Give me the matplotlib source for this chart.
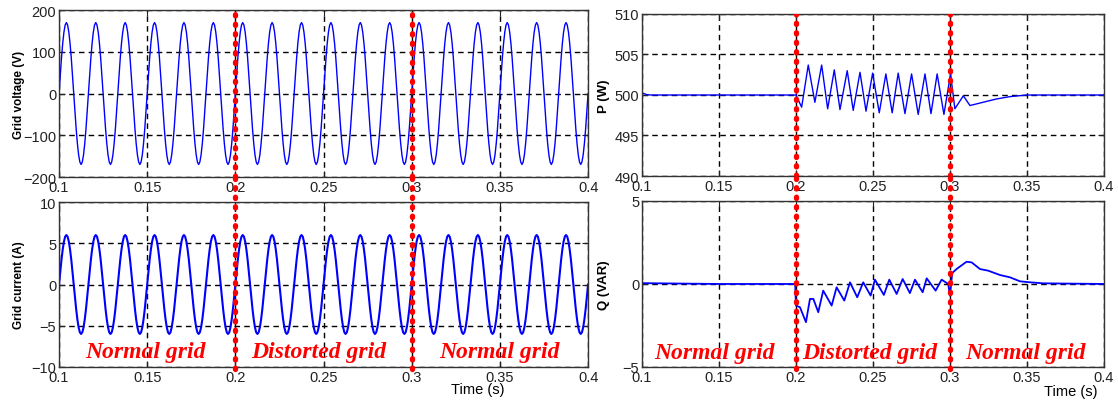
import numpy as np
import matplotlib.pyplot as plt

plt.rcParams['font.family'] = ['Liberation Sans', 'DejaVu Sans']

# grid waveforms: one 60 Hz cycle sampled every 15 degrees, repeated
f_grid = 60
n_cycles = 18
v_cycle = [0, 44, 85, 120, 147, 164, 170, 164, 147, 120, 85, 44,
           0, -44, -85, -120, -147, -164, -170, -164, -147, -120, -85, -44]
i_cycle = [0, 1.55, 3.0, 4.24, 5.2, 5.8, 6.0, 5.8, 5.2, 4.24, 3.0, 1.55,
           0, -1.55, -3.0, -4.24, -5.2, -5.8, -6.0, -5.8, -5.2, -4.24, -3.0, -1.55]

# active power (W)
p_time = [0.100, 0.101, 0.103, 0.106, 0.150, 0.200,
          0.2037, 0.2080, 0.2123, 0.2167, 0.2206, 0.2249, 0.2286, 0.2333,
          0.2372, 0.2416, 0.2455, 0.2498, 0.2541, 0.2584, 0.2625, 0.2664,
          0.2708, 0.2751, 0.2794, 0.2838, 0.2877, 0.2917, 0.2961, 0.3004,
          0.3032, 0.3087, 0.3130, 0.3215, 0.3300, 0.3390, 0.3500, 0.4000]
p_val = [500.3, 500.2, 500.05, 500.0, 500.0, 500.0,
         498.5, 503.7, 499.1, 503.7, 498.3, 503.1, 498.2, 503.0,
         498.1, 502.8, 498.0, 502.7, 497.8, 502.6, 497.8, 502.7,
         497.7, 502.6, 497.6, 502.6, 497.7, 502.6, 497.6, 502.6,
         498.3, 499.9, 498.7, 499.1, 499.5, 499.8, 500.0, 500.0]

# reactive power (VAR)
q_time = [0.100, 0.150, 0.1995, 0.2000, 0.2026, 0.2065, 0.2091, 0.2113,
          0.2145, 0.2177, 0.2232, 0.2264, 0.2314, 0.2351, 0.2398, 0.2437,
          0.2485, 0.2513, 0.2571, 0.2606, 0.2654, 0.2693, 0.2740, 0.2773,
          0.2823, 0.2849, 0.2907, 0.2946, 0.2989, 0.3000, 0.3015, 0.3043,
          0.3108, 0.3141, 0.3195, 0.3249, 0.3325, 0.3390, 0.3455, 0.3520,
          0.3605, 0.4000]
q_val = [0.05, 0.0, 0.0, -1.3, -1.4, -2.3, -0.9, -0.9,
         -1.7, -0.4, -1.3, -0.2, -1.0, 0.1, -0.8, 0.1,
         -0.7, 0.26, -0.66, 0.26, -0.6, 0.3, -0.55, 0.26,
         -0.5, 0.34, -0.4, 0.26, 0.0, -0.7, 0.66, 0.9,
         1.34, 1.3, 0.9, 0.8, 0.54, 0.4, 0.16, 0.1,
         0.04, 0.0]

events = [0.2, 0.3]
zones = ['Normal grid', 'Distorted grid', 'Normal grid']
xticks = [0.1, 0.15, 0.2, 0.25, 0.3, 0.35, 0.4]
xticklabels = ['0.1', '0.15', '0.2', '0.25', '0.3', '0.35', '0.4']

n_pts = n_cycles * len(v_cycle)
t_wave = 0.1 + np.arange(n_pts + 1) / (f_grid * len(v_cycle))
v_wave = np.append(np.tile(v_cycle, n_cycles), v_cycle[0])
i_wave = np.append(np.tile(i_cycle, n_cycles), i_cycle[0])

fig = plt.figure(figsize=(11.18, 4.02), dpi=100)
ax_v = fig.add_axes([0.0528, 0.5572, 0.4732, 0.4154])
ax_i = fig.add_axes([0.0528, 0.0846, 0.4732, 0.4104])
ax_p = fig.add_axes([0.5742, 0.5597, 0.4132, 0.4030])
ax_q = fig.add_axes([0.5742, 0.0846, 0.4132, 0.4130])

ax_v.plot(t_wave, v_wave, color='#0000ff', lw=1.0)
ax_i.plot(t_wave, i_wave, color='#0000ff', lw=1.5)
ax_p.plot(p_time, p_val, color='#0000ff', lw=1.0)
ax_q.plot(q_time, q_val, color='#0000ff', lw=1.3)

setup = [(ax_v, (-200, 200), [-200, -100, 0, 100, 200], 'Grid voltage (V)', 8.5, -0.064),
         (ax_i, (-10, 10), [-10, -5, 0, 5, 10], 'Grid current (A)', 8.5, -0.064),
         (ax_p, (490, 510), [490, 495, 500, 505, 510], 'P (W)', 9.5, -0.069),
         (ax_q, (-5, 5), [-5, 0, 5], 'Q (VAR)', 9.5, -0.069)]

for ax, ylim, yticks, ylabel, lsize, lx in setup:
    ax.set_xlim(0.1, 0.4)
    ax.set_ylim(*ylim)
    ax.set_xticks(xticks)
    ax.set_xticklabels(xticklabels)
    ax.set_yticks(yticks)
    ax.tick_params(direction='in', length=4, labelsize=10.5, colors='#222222',
                   top=True, right=True, pad=2)
    ax.grid(True, color='black', linestyle=(0, (4, 3)), linewidth=1.0)
    ax.set_ylabel(ylabel, fontsize=lsize, fontweight='bold')
    ax.yaxis.set_label_coords(lx, 0.5)
    for s in ax.spines.values():
        s.set_color('#333333')
        s.set_linewidth(1.0)

# red dotted event markers, carried across the gap between stacked axes
dots = dict(color='red', lw=3.8, linestyle=(0, (0.25, 1.55)),
            dash_capstyle='round', zorder=5)
for top, bot in [(ax_v, ax_i), (ax_p, ax_q)]:
    tb = top.get_position()
    bb = bot.get_position()
    ext = 1 + (tb.y0 - bb.y1) / bb.height
    for t in events:
        top.axvline(t, **dots)
        bot.axvline(t, ymin=-0.01, ymax=ext, clip_on=False, **dots)

# operating zone labels
for ax, xs, y in [(ax_i, [0.149, 0.247, 0.350], -8.1), (ax_q, [0.1468, 0.248, 0.349], -4.1)]:
    for x, name in zip(xs, zones):
        ax.text(x, y, name, color='red', fontsize=17, fontweight='bold',
                fontstyle='italic', family='Liberation Serif',
                ha='center', va='center', zorder=6)

fig.text(478 / 1118, 1 - 390 / 402, 'Time (s)', fontsize=10.5, ha='center', va='center')
fig.text(1071 / 1118, 1 - 392 / 402, 'Time (s)', fontsize=10.5, ha='center', va='center')

fig.savefig('out.png', dpi=100)
